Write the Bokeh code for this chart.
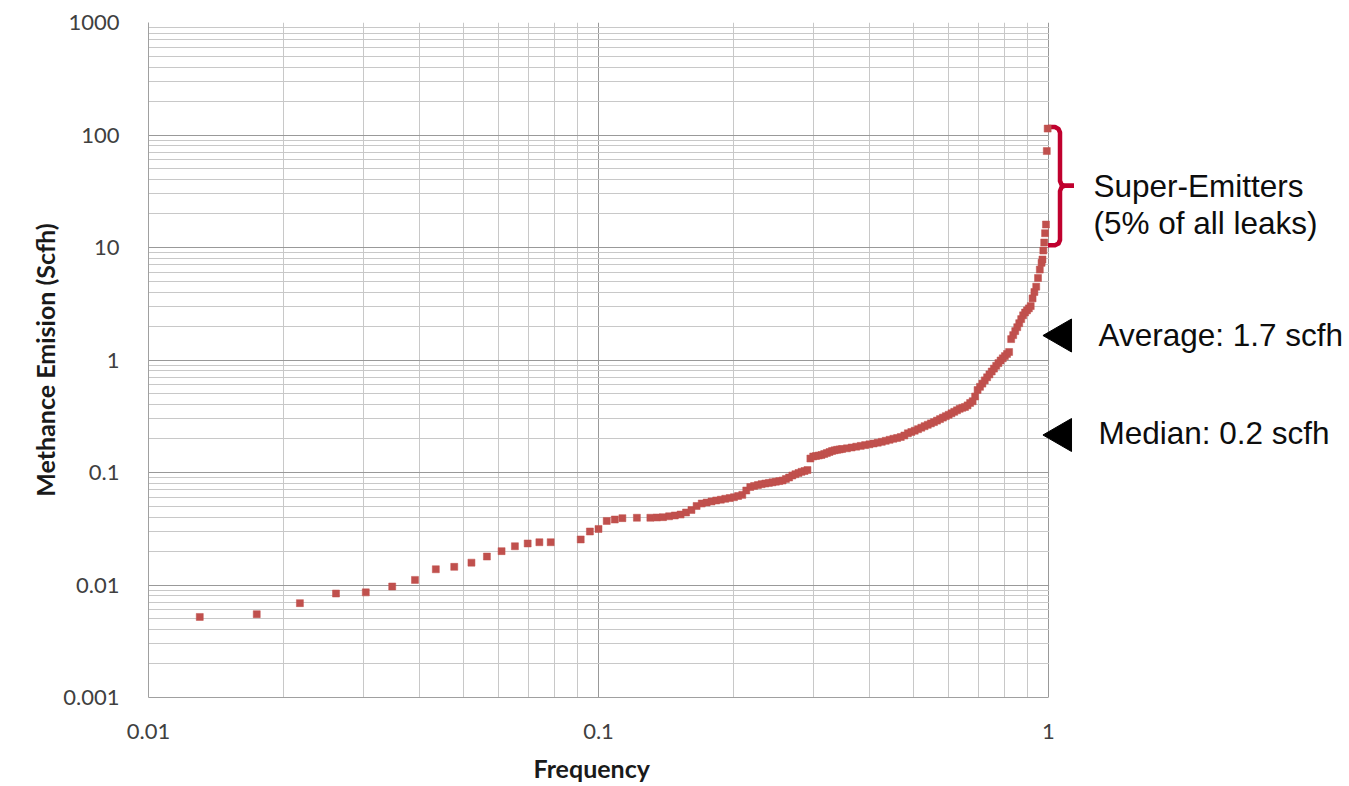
import math
from bokeh.plotting import figure
from bokeh.models import Range1d, FixedTicker, CustomJSTickFormatter, Title
from bokeh.core.properties import value
from bokeh.embed import file_html
from bokeh.resources import INLINE

# ---------------- data ----------------
frequency = [
    0.0130, 0.0174, 0.0217, 0.0261, 0.0304, 0.0348, 0.0391, 0.0435, 0.0478, 0.0522,
    0.0565, 0.0609, 0.0652, 0.0696, 0.0739, 0.0783, 0.0913, 0.0957, 0.1000, 0.1043,
    0.1087, 0.1130, 0.1217, 0.1304, 0.1348, 0.1391, 0.1435, 0.1478, 0.1522, 0.1565,
    0.1609, 0.1652, 0.1696, 0.1739, 0.1783, 0.1826, 0.1870, 0.1913, 0.1957, 0.2000,
    0.2043, 0.2087, 0.2130, 0.2174, 0.2217, 0.2261, 0.2304, 0.2348, 0.2391, 0.2435,
    0.2478, 0.2522, 0.2565, 0.2609, 0.2652, 0.2696, 0.2739, 0.2783, 0.2826, 0.2870,
    0.2913, 0.2957, 0.3000, 0.3043, 0.3087, 0.3130, 0.3174, 0.3217, 0.3261, 0.3304,
    0.3348, 0.3391, 0.3435, 0.3478, 0.3565, 0.3652, 0.3739, 0.3826, 0.3913, 0.4000,
    0.4087, 0.4174, 0.4261, 0.4348, 0.4435, 0.4522, 0.4609, 0.4696, 0.4783, 0.4870,
    0.4957, 0.5043, 0.5130, 0.5217, 0.5304, 0.5391, 0.5478, 0.5565, 0.5652, 0.5739,
    0.5826, 0.5913, 0.6000, 0.6087, 0.6174, 0.6261, 0.6348, 0.6435, 0.6522, 0.6609,
    0.6696, 0.6783, 0.6870, 0.6957, 0.7043, 0.7130, 0.7217, 0.7304, 0.7391, 0.7478,
    0.7565, 0.7652, 0.7739, 0.7826, 0.7913, 0.8000, 0.8087, 0.8174, 0.8261, 0.8348,
    0.8435, 0.8522, 0.8609, 0.8696, 0.8783, 0.8870, 0.8957, 0.9043, 0.9130, 0.9217,
    0.9304, 0.9391, 0.9478, 0.9565, 0.9652, 0.9696, 0.9739, 0.9783, 0.9826, 0.9870,
    0.9913, 0.9957,
]
emission_scfh = [
    0.0052, 0.0055, 0.0069, 0.0084, 0.0086, 0.0097, 0.0111, 0.0138, 0.0145, 0.0158,
    0.0179, 0.0200, 0.0221, 0.0234, 0.0240, 0.0240, 0.0254, 0.0299, 0.0315, 0.0371,
    0.0382, 0.0393, 0.0396, 0.0396, 0.0398, 0.0401, 0.0408, 0.0415, 0.0423, 0.0441,
    0.0464, 0.0504, 0.0530, 0.0541, 0.0553, 0.0564, 0.0573, 0.0584, 0.0593, 0.0603,
    0.0618, 0.0633, 0.0692, 0.0743, 0.0759, 0.0774, 0.0788, 0.0798, 0.0808, 0.0818,
    0.0828, 0.0839, 0.0849, 0.0876, 0.0903, 0.0940, 0.0966, 0.0990, 0.1014, 0.1031,
    0.1052, 0.1331, 0.1387, 0.1402, 0.1416, 0.1431, 0.1460, 0.1490, 0.1521, 0.1553,
    0.1575, 0.1591, 0.1604, 0.1618, 0.1641, 0.1668, 0.1696, 0.1724, 0.1752, 0.1781,
    0.1810, 0.1840, 0.1874, 0.1913, 0.1953, 0.1994, 0.2026, 0.2068, 0.2133, 0.2231,
    0.2291, 0.2352, 0.2426, 0.2501, 0.2580, 0.2655, 0.2732, 0.2805, 0.2892, 0.2983,
    0.3076, 0.3166, 0.3258, 0.3360, 0.3464, 0.3572, 0.3684, 0.3760, 0.3822, 0.3949,
    0.4148, 0.4302, 0.4737, 0.5412, 0.5777, 0.6168, 0.6587, 0.7019, 0.7447, 0.7901,
    0.8386, 0.8881, 0.9384, 0.990, 1.035, 1.083, 1.131, 1.178, 1.534, 1.664,
    1.807, 1.957, 2.124, 2.310, 2.496, 2.644, 2.760, 2.875, 3.014, 3.529,
    4.022, 4.483, 5.357, 6.364, 7.311, 7.82, 9.40, 11.08, 13.4, 16.0,
    72.0, 114.0,
]

x_ticks = [0.01, 0.1, 1]
x_tick_labels = ["0.01", "0.1", "1"]
x_minor = [0.02, 0.03, 0.04, 0.05, 0.06, 0.07, 0.08, 0.09,
           0.2, 0.3, 0.4, 0.5, 0.6, 0.7, 0.8, 0.9]
y_ticks = [0.001, 0.01, 0.1, 1, 10, 100, 1000]
y_tick_labels = ["0.001", "0.01", "0.1", "1", "10", "100", "1000"]
y_minor = [m * d for d in [0.001, 0.01, 0.1, 1, 10, 100] for m in range(2, 10)]

x_title = "Frequency"
y_title = "Methance Emision (Scfh)"
super_text = ["Super-Emitters", "(5% of all leaks)"]
stat_text = ["Average: 1.7 scfh", "Median: 0.2 scfh"]

# ---------------- layout helpers (page pixels -> data) ----------------
FRAME_LEFT = 148.0     # page x of frame left
PX_PER_DEC_X = 450.0
FRAME_TOP = 22.0
PX_PER_DEC_Y = 112.5
FRAME_W = 1199
FRAME_H = 675


def px_to_x(px):
    return 10 ** ((px - FRAME_LEFT) / PX_PER_DEC_X - 2)


def py_to_y(py):
    return 10 ** (3 - (py - FRAME_TOP) / PX_PER_DEC_Y)


x_end = px_to_x(FRAME_LEFT + FRAME_W)

p = figure(
    frame_width=FRAME_W, frame_height=FRAME_H,
    min_border_left=int(FRAME_LEFT), min_border_right=0,
    min_border_top=int(FRAME_TOP), min_border_bottom=88,
    x_axis_type="log", y_axis_type="log",
    x_range=Range1d(0.01, x_end), y_range=Range1d(0.001, 1000),
    output_backend="svg", toolbar_location=None,
    background_fill_color="white", border_fill_color="white",
    outline_line_color=None,
)

# ticks / formatters
fmt_code = """
const i = tv.findIndex(t => Math.abs(Math.log10(t) - Math.log10(tick)) < 1e-6);
return i >= 0 ? tl[i] : "";
"""
p.xaxis.ticker = FixedTicker(ticks=x_ticks, minor_ticks=x_minor)
p.yaxis.ticker = FixedTicker(ticks=y_ticks, minor_ticks=y_minor)
p.xaxis.formatter = CustomJSTickFormatter(args=dict(tv=x_ticks, tl=x_tick_labels), code=fmt_code)
p.yaxis.formatter = CustomJSTickFormatter(args=dict(tv=y_ticks, tl=y_tick_labels), code=fmt_code)
p.xaxis.bounds = (0.01, 1)

for ax in (p.xaxis, p.yaxis):
    ax.axis_line_color = "#a0a0a0"
    ax.axis_line_width = 1
    ax.major_tick_line_color = None
    ax.minor_tick_line_color = None
    ax.major_tick_out = 0
    ax.major_tick_in = 0
    ax.major_label_text_font = "Lato"
    ax.major_label_text_font_size = "22px"
    ax.major_label_text_color = "#404040"
    ax.axis_label_text_font = "Lato"
    ax.axis_label_text_font_style = "bold"
    ax.axis_label_text_font_size = "25px"
    ax.axis_label_text_color = "#1a1a1a"

p.yaxis.axis_label = y_title
p.xaxis.major_label_standoff = 22
p.yaxis.major_label_standoff = 25
p.yaxis.axis_label_standoff = 0

# x-axis title, centred under the 0.01..1 part of the frame
p.add_layout(Title(text=x_title, align="left", offset=385, standoff=18,
                   text_font="Lato", text_font_style="bold", text_font_size="25px",
                   text_color="#1a1a1a"), "below")

for g in (p.xgrid, p.ygrid):
    g.grid_line_color = "#999999"
    g.grid_line_width = 1
    g.minor_grid_line_color = "#c8c8c8"
    g.minor_grid_line_width = 1

# white mask to the right of the chart (annotation area)
p.quad(left=[px_to_x(FRAME_LEFT + 900.6)], right=[x_end * 2], bottom=[1e-5], top=[1e5],
       fill_color="white", line_color=None)

# super-emitter bracket
br_color = "#C0002E"
upper = [(1047.5, 126.5), (1054.5, 126.5), (1058, 128.5), (1059.5, 132), (1059.5, 180.5),
         (1061, 184), (1064, 185.3), (1073.5, 185.3)]
lower = [(1073.5, 185.3), (1064, 185.3), (1061, 186.8), (1059.5, 190.5), (1059.5, 239.5),
         (1058, 243), (1054.5, 244.7), (1047.5, 244.7)]
p.multi_line(xs=[[px_to_x(a) for a, b in upper], [px_to_x(a) for a, b in lower]],
             ys=[[py_to_y(b) for a, b in upper], [py_to_y(b) for a, b in lower]],
             line_color=br_color, line_width=4.5, line_join="round", line_cap="butt")

p.text(x=[px_to_x(1093)] * 2, y=[py_to_y(185.8), py_to_y(222.5)], text=super_text,
       text_font=value("Liberation Sans"), text_font_size="31.5px", text_color="#0d0d0d",
       text_baseline="middle", text_align="left")

# average / median markers
p.scatter(x=[px_to_x(1061.5)] * 2, y=[py_to_y(335), py_to_y(434.5)], marker="triangle",
          size=33, angle=math.pi / 2, fill_color="black", line_color="black")
p.text(x=[px_to_x(1098)] * 2, y=[py_to_y(334.2), py_to_y(432.5)], text=stat_text,
       text_font=value("Liberation Sans"), text_font_size="31.5px", text_color="#0d0d0d",
       text_baseline="middle", text_align="left")

# data points
p.scatter(frequency, emission_scfh, marker="square", size=7,
          fill_color="#C0504D", line_color="#C0504D", line_width=0.5)

open("out.html", "w").write(file_html(p, INLINE))
